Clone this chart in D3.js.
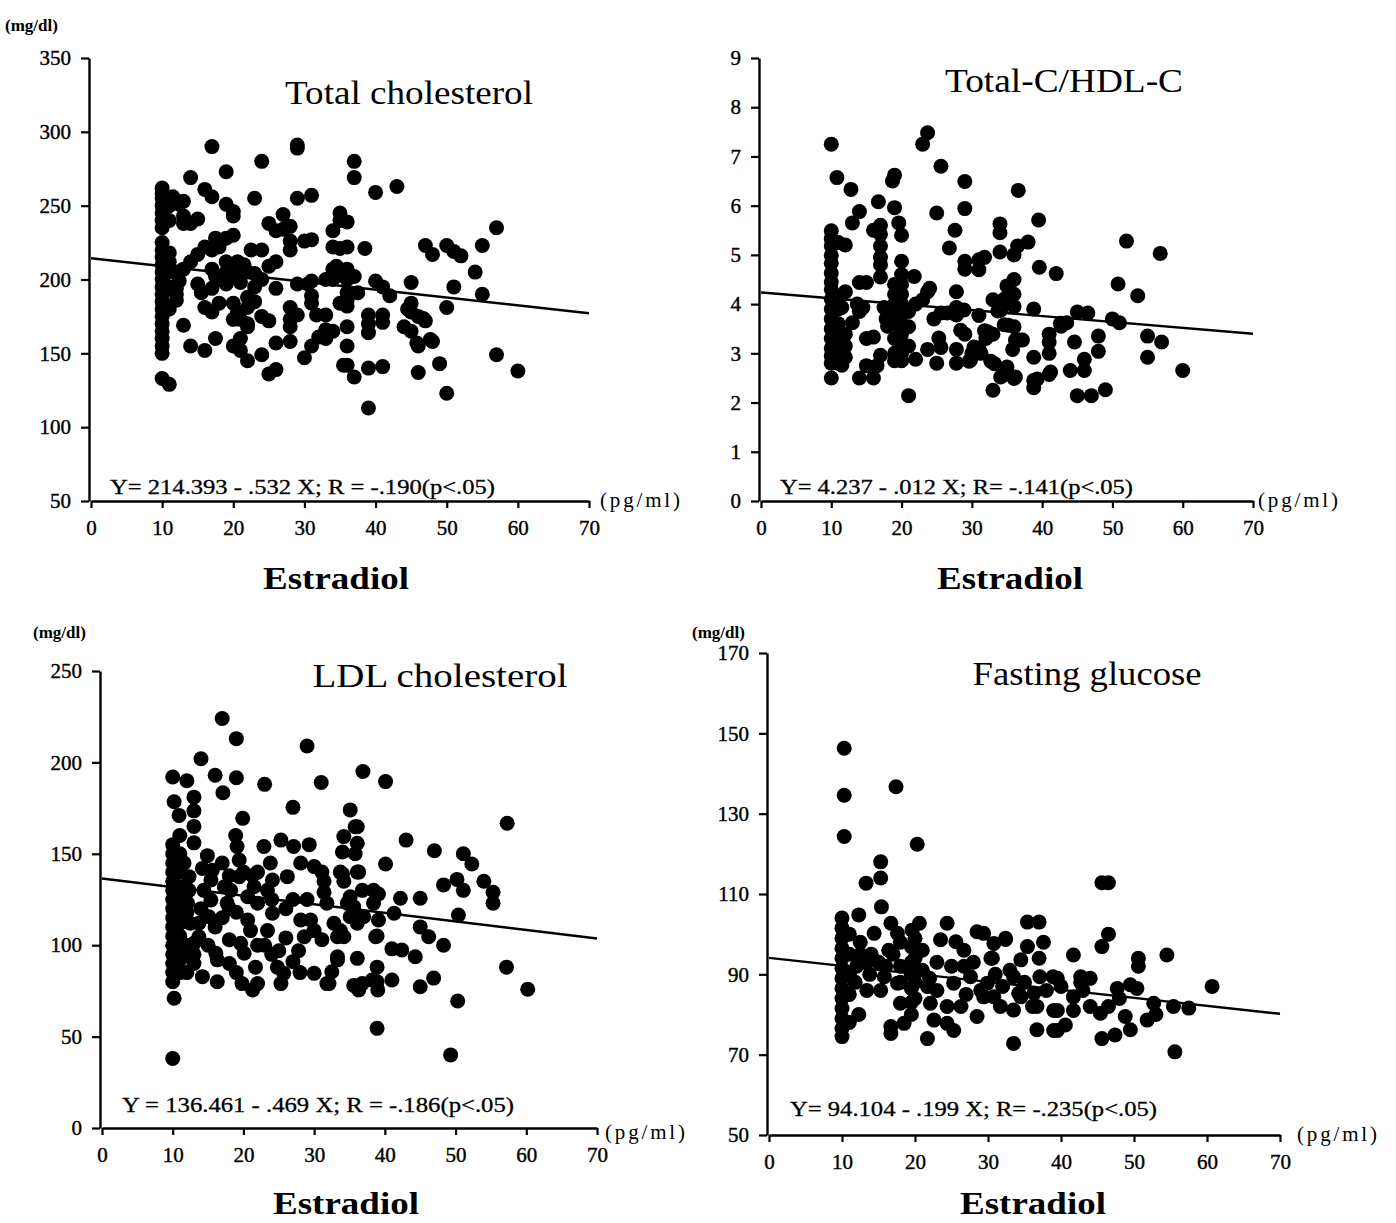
<!DOCTYPE html>
<html>
<head>
<meta charset="utf-8">
<script src="https://cdn.jsdelivr.net/npm/d3@7"></script>
<style>
  body { margin: 0; background: #fff; }
  svg text { font-family: "Liberation Serif", "Times New Roman", serif; fill: #000; }
</style>
</head>
<body>
<script>
// ---- data (estradiol pg/ml, value) ----
var xTicks = [0, 10, 20, 30, 40, 50, 60, 70];
var tcTicks = [50, 100, 150, 200, 250, 300, 350];
var hdlTicks = [0, 1, 2, 3, 4, 5, 6, 7, 8, 9];
var ldlTicks = [0, 50, 100, 150, 200, 250];
var gluTicks = [50, 70, 90, 110, 130, 150, 170];

// regression coefficients [intercept, slope] as printed
var tcFit = [214.393, -0.532];
var hdlFit = [4.237, -0.012];
var ldlFit = [136.461, -0.469];
var gluFit = [94.104, -0.199];

var titles = ["Total cholesterol", "Total-C/HDL-C", "LDL cholesterol", "Fasting glucose"];
var equations = [
  "Y= 214.393 - .532 X; R = -.190(p<.05)",
  "Y= 4.237 - .012 X; R= -.141(p<.05)",
  "Y = 136.461 - .469 X; R = -.186(p<.05)",
  "Y= 94.104 - .199 X; R= -.235(p<.05)"
];

var tcPts = [[17,290],[29,291],[29,289],[24,280],[37,280],[37,269],[19,273],[14,269],[43,263],[40,259],[10,262],[16,261],[17,256],[23,255],[29,255],[31,257],[57,235],[55,223],
[19,251],[20,246],[20,243],[15,241],[13,243],[25,238],[26,233],[27,234],[28,236],[27,244],[35,245],[35,240],[36,239],[34,233],[38.5,221],[47,223],[48,217],[50,223],[51,219],[52,216],[54,205],[55,190],[50,181],[51,195],[45,198],[42,189],[41,195],[40,199],[41,176],[41,171],[39,176],[39,164],[39,170],[37.5,191],[45,184],[45,178],[46,175],[47,172],[44,168],[45,165],[46,155],[46,137],[48,158],[49,143],[50,123],[57,149],[60,138],[39,113],[39,140],[41,141],[36,142],[37,134],[36,155],[36,168],[36,182],[36,186],[36,191],[36,200],[36,207],[34,207],[34.5,209],[37,202],[35,221],[36,222],[34,222],[33,176],[31.7,176],[31,184],[31,189],[30.5,197],[31,199],[29,197],[31,227],[30,226],[28,226],[28,220],[28,181],[28,173],[28,168],[29,176],[28,158],[30,147],[31,155],[33,160],[34,165],[26,157],[25,136],[26,139],[24,149],[25,172],[26,194],[26,212],[25,209],[24,220],[22.5,220],[23,204],[23,195],[21.5,210],[20.6,212],[20,204],[19,197],[17.5,228],[18,222],[19,228],[20,230],[16,222],[17,220],[15,217],[15,197],[15.5,191],[17,207],[17,194],[17.5,202],[19,212],[20,184],[20.6,178],[20,173],[21,173],[22,181],[22,168],[16,181],[17,178],[18,184],[17.5,160],[16,152],[14,155],[20,155],[21,160],[21,152],[22,145],[13,169],[12,186],[12.4,199],[12,194],[13,207],[14,212],[14,238],[13,238],[12.4,251],[13,253],[11.5,256],[11,129],[10,133],
[10,150],[10,155],[10,160],[10,165],[10,170],[10,175],[10,180],[10,185],[10,190],[10,195],[10,200],[10,205],[10,210],[10,215],[10,220],[10,225],[10,235],[10,240],[10,245],[10,250],[10,255],[10,258],
[11,205],[11,212],[11,218],[11,195],[11,180],[12,205],[12,190],[11,250],[11,240],[21,198],[22,205],[23,185],[22,188],[24,175],[22,170],[18,200],[19,205],[24,200],[33,200],[34,200],[35,203],[35.5,142],[32,161],[33,166],[35,184],[44.5,180],[46.7,173.6],[45.8,157],[47.7,159.4]];

var hdlPts = [[10,7.25],[10.8,6.57],[12.8,6.33],[14,5.88],[13,5.65],[16.7,6.08],[19,6.62],[18.7,6.5],[19,5.96],[19.6,5.65],[20,5.4],[23,7.25],[23.7,7.48],[25.6,6.8],[25,5.85],[29,6.49],[29,5.94],[36.6,6.31],[39.5,5.71],[52,5.28],[56.8,5.03],[34,5.63],[34,5.45],[38,5.26],[36.5,5.18],[36,5.0],[34,5.06],[27.6,5.5],[26.8,5.14],[29,4.87],[29,4.71],[31,4.9],[31.8,4.95],[31,4.7],[39.6,4.75],[42,4.62],[50.8,4.41],[53.6,4.17],[55,3.35],[55,2.92],[57,3.23],[60,2.65],[50,3.7],[51,3.62],[45,3.84],[46.5,3.82],[48,3.35],[48,3.04],[44.6,3.23],[46,2.88],[46,2.65],[44,2.65],[45,2.14],[47,2.14],[49,2.26],[42.7,3.55],[43.5,3.62],[41,3.39],[41,3.0],[41,3.23],[41,2.57],[38.8,3.9],[38.8,2.92],[38.8,2.45],[38.8,2.3],[36.8,3.27],[35.8,3.08],[36,3.54],[36,4.5],[36,4.2],[36,3.95],[35,4.37],[34.6,4.1],[34,3.93],[33,4.09],[33.7,3.86],[34.6,3.58],[33,3.39],[32,3.3],[31.8,3.46],[32.7,2.84],[33,2.25],[34.6,2.57],[35,2.72],[36,2.49],[31,3.77],[31,3.11],[29.6,2.84],[30,3.0],[29,3.39],[27.8,4.25],[27.8,3.93],[27.8,3.78],[26.5,3.82],[25.6,3.82],[24.6,3.7],[25.3,3.31],[25.6,3.12],[25,2.8],[23.7,3.08],[23,4.09],[23.7,4.25],[24,4.32],[22,4.0],[21,3.85],[21.8,4.56],[21,3.54],[21,3.15],[22,2.88],[21,2.14],[27.8,3.08],[27.8,2.8],
[20,4.87],[20,4.6],[20,4.4],[20,4.2],[20,4.0],[20,3.8],[20,3.6],[20,3.4],[20,3.2],[20,3.0],[20,2.85],
[19,4.4],[19,4.2],[19,4.0],[19,3.8],[19,3.6],[19,3.3],[19,3.0],[19,2.85],
[17.5,3.93],[17.8,3.7],[18,3.55],[17,5.6],[17,5.42],[17,5.18],[17,4.95],[17,4.8],[17,4.55],[16,5.5],[17,2.96],[16.5,2.75],[16,2.5],[16,3.33],[15,3.3],[15,2.75],[15,4.44],[14,4.44],[13.7,4.0],[14,3.85],[13,3.62],[14.5,3.93],[14,2.5],[12,4.25],[11.5,3.93],[12,3.39],[12,3.15],[12,2.92],[11.5,2.76],
[10,5.49],[10,5.33],[10,5.18],[10,4.99],[10,4.83],[10,4.63],[10,4.45],[10,4.3],[10,4.1],[10,3.9],[10,3.7],[10,3.5],[10,3.3],[10,3.1],[10,2.95],[10,2.8],[10,2.5],[11,5.25],[12,5.2],[11,4.1],[11,3.9],[11,3.6],[11,3.3],[11,3.0],[11,2.8],
[28.4,3.47],[30.3,3.13],[32.2,3.44],[35.2,3.57],[28.9,3.88],[34.1,3.88],[29.8,2.86],[31.3,3.0],[33.2,2.79],[36.2,3.27],[37.2,3.27],[34.1,2.52],[36.2,2.52],[39.3,2.48],[41.2,2.62],[42.6,3.61]];

var ldlPts = [[17,224],[19,213],[29,209],[14,202],[10,192],[12,190],[16,193],[19,191.6],[17.1,183.4],[23,188],[31,189],[36.9,195],[13,181],[10.2,178.5],[10.9,171],[13,173.5],[13,165],[27,175.4],[19.9,169.4],[35.1,174],[35.8,164.8],[34.2,159.4],[34,151],
[10,155],[10,150],[10,145],[10,140],[10,135],[10,130],[10,125],[10,120],[10,115],[10,110],[10,105],[10,100],[10,95],[10,90],[10,85],[10,80],[10.2,71],[10,38],
[13,156],[14.9,149],[14.2,142],[15.6,141],[11.6,145],[12.3,137.5],[12.3,130],[12.1,123],[18.9,160],[19.1,154],[19.4,146.6],[19.4,137.5],[22.9,154],[23.8,145],[25.3,157.5],[27.1,154],[29.3,155],[28.1,145],[30,143],[31.1,140],[31.4,135],[34,139],[34.2,135],[35.8,150],[36.3,140],[26.2,137.5],[24.1,135.7],[23.4,130],[21.3,138],[21.5,132],[20.6,126.5],[18,138],[17.3,132],[18.2,130],[17.7,123],[15.4,135.7],[14.4,130],[15.4,124.7],[15.1,115.6],[13.7,112],[13.7,104.6],[13,101],[12.5,112],[16.1,95.6],[16.3,92],[13,90],[14.2,82.8],[16.3,80],[18,103],[19.6,101],[20.1,95.6],[19.8,79],[21.3,75.5],[21.7,88],[22,79],[23.4,108],[24.1,117.5],[20.6,113.8],[21,108],[25,97],[24.8,88],[25.7,84.6],[25.3,79],[28.1,113.8],[28.6,104.6],[27.8,97],[29.5,113.8],[30,108],[31.4,129],[31.8,123],[31.1,103],[30,84.6],[31.8,79],[33.7,108],[33.3,104.6],[33.3,92],[32.5,85.5],[34.7,123],[35.1,115.6],[36.1,112],[36.1,92.8],[35.6,78],[36.3,75.5],[36.8,79],[38.4,130],[38.4,123],[38.9,54.5],[38.7,104.6],[38.9,88],[38.9,80],
[40.1,189.5],[57.3,166.7],[43,157.5],[47,151.7],[51.1,150],[52.3,144.4],[40.1,144.4],[36.1,140],[48.3,133],[50.2,136],[51.1,130],[54,135],[55.3,129],[55.3,123],[42.2,125.7],[45,125.7],[50.4,116.5],[39.1,128],[38.9,105],[45,110],[46.2,104.6],[48.3,100],[41,98],[42.4,97.4],[44.3,93.7],[39,75.5],[41,81],[45,77.3],[46.9,82],[50.3,69.5],[57.2,88],[60.2,75.9],[49.3,40],[32.8,112],[34.2,104.6],[33.3,93.7],[32.1,79],[38.2,81],[36.1,164.8],[36.1,155.8],[33.7,140],[36.8,130],[35.1,126.5],[35.6,121],[37,115.6],[39.1,113.8],[41.3,117.5],
[11,160],[11,150],[11,140],[11,132],[11,125],[11,118],[11,112],[11,105],[11,98],[11,92],[12,118],[12,100],[12,95],[11,85],[12,85],[13,95],[14,120],[16,110],[17,115],[18,120],[19,118],[22,123],[24,125],[26,120],[27,125],[29,125],[23,100],[26,104],[27,91],[28,85],[24,95],[22,100],[18,90],[19,85],[15,100],[20,140],[22,140],[17,145]];

var gluPts = [[10.3,146.3],[10.3,134.6],[10.3,124.3],[17.4,136.7],[20.3,122.4],[15.3,118],[15.3,114],[13.3,112.7],[15.4,106.8],
[10,104],[10,101.5],[10,99],[10,96.5],[10,94],[10,91.5],[10,89],[10,86.5],[10,84],[10,81.5],[10,79],[10,76.5],[10,74.5],
[12.3,104.8],[14.4,100.2],[12.5,98],[12.5,95],[13.4,93],[13.8,90],[11.8,88],[13.4,86],[12.3,80],[16.7,102.7],[17.6,100.2],[16.4,96],[20.6,102.7],[19.6,101],[16.7,77],[16.7,75.3],[18.5,77.8],[15.8,89.4],[15.3,86],[17.6,87.8],[18,82.8],
[19.5,96.9],[19.5,93],[19.5,90],[19.5,86.5],[19.5,83],[19.5,80],
[21.7,74],[21.7,87],[22.1,82.8],[22.6,78.6],[24.4,102.7],[23.5,98.6],[25.6,98.1],[26.7,96],[28.5,100.6],[29.4,100.2],[32.4,99],[30.8,97.7],[30.4,94],[26.7,92],[27.6,89.4],[25.3,87.8],[24.4,82],[26.3,82],[24.4,77.8],[25.3,76],[28.5,79.5],[29,86],[29.9,87.8],[29.4,84.4],[31.7,82],[30.8,84.4],[33.5,72.8],[35.4,103],[37,103],[37.6,98],[35.4,96.9],[34.5,93.6],[33.5,89.4],[34.5,84.4],[36.7,82],[36.7,76.2],[37.1,89.4],[38.9,89.4],[39,81],[39,76],
[45.6,112.8],[46.5,112.8],[46.5,100],[45.6,96.9],[41.7,94.8],[50.6,94],[50.6,92],[54.5,94.8],[60.7,87],[32.4,98.7],[30.6,94],[39.5,89],[42.7,89.4],[44,89],[36.3,85.3],[36.1,82],[34.2,85.3],[33.5,81.1],[39.5,81],[39.5,76],[40.6,77.4],[41.7,84.4],[41.7,81],[42.7,88],[47.7,86.5],[49.5,87.4],[50.4,86.5],[46.5,82],[45.4,80.3],[48.8,79.5],[49.5,76.2],[45.6,74],[47.4,74.9],[52.7,82.8],[51.8,78.6],[55.4,82],[57.5,81.6],[55.6,70.7],
[11,100],[11,95],[11,90],[11,85],[11,78],[12,92],[14,95],[15,93],[16,92],[17,95],[18,98],[18,92],[18,88],[20,99],[20,94],[20,88],[20,84],[21,96],[21,91],[22,89],[23,93],[23,86],[25,92],[27,85],[28,93],[31,90],[32,87],[33,91],[35,88],[37,94],[38,86],[40,87],[43,86],[44,82],[48,84],[53,80]];

// ---- layout ----
var svg = d3.select("body").append("svg")
  .attr("width", 1396)
  .attr("height", 1223)
  .style("background", "#fff");

var panels = [
  { pts: tcPts, fit: tcFit, ticks: tcTicks, yDom: [50, 350], xr: [91, 589], yr: [501, 58],
    title: titles[0], titleAt: [409, 104], titleLen: 248, eq: equations[0], eqAt: [110, 494], eqLen: 385,
    unitAt: [600, 507], xlabAt: [336, 589], mgAt: [5, 31] },
  { pts: hdlPts, fit: hdlFit, ticks: hdlTicks, yDom: [0, 9], xr: [761, 1253], yr: [501, 58],
    title: titles[1], titleAt: [1064, 92], titleLen: 238, eq: equations[1], eqAt: [780, 494], eqLen: 353,
    unitAt: [1258, 507], xlabAt: [1010, 589], mgAt: null },
  { pts: ldlPts, fit: ldlFit, ticks: ldlTicks, yDom: [0, 250], xr: [102, 597], yr: [1128, 671],
    title: titles[2], titleAt: [440, 687], titleLen: 255, eq: equations[2], eqAt: [122, 1112], eqLen: 392,
    unitAt: [605, 1139], xlabAt: [346, 1214], mgAt: [33, 638] },
  { pts: gluPts, fit: gluFit, ticks: gluTicks, yDom: [50, 170], xr: [769, 1280], yr: [1135, 653],
    title: titles[3], titleAt: [1087, 685], titleLen: 229, eq: equations[3], eqAt: [790, 1116], eqLen: 367,
    unitAt: [1297, 1141], xlabAt: [1033, 1214], mgAt: [692, 638] }
];

panels.forEach(function(p) {
  var x = d3.scaleLinear().domain([0, 70]).range(p.xr);
  var y = d3.scaleLinear().domain(p.yDom).range(p.yr);
  var g = svg.append("g");

  var yAxis = g.append("g")
    .attr("transform", "translate(" + (p.xr[0] - 2) + ",0)")
    .call(d3.axisLeft(y).tickValues(p.ticks).tickSize(8).tickSizeOuter(0).tickPadding(10).tickFormat(d3.format("d")));
  var xAxis = g.append("g")
    .attr("transform", "translate(0," + p.yr[0] + ")")
    .call(d3.axisBottom(x).tickValues(xTicks).tickSize(7).tickSizeOuter(0).tickPadding(12).tickFormat(d3.format("d")));

  [yAxis, xAxis].forEach(function(a) {
    a.attr("font-family", null).attr("font-size", null);
    a.select(".domain").attr("stroke", "#000").attr("stroke-width", 2.4);
    a.selectAll(".tick line").attr("stroke", "#000").attr("stroke-width", 2.2);
    a.selectAll(".tick text")
      .style("font-size", "21px")
      .attr("stroke", "#000")
      .attr("stroke-width", 0.4);
  });

  // fitted line from printed equation
  var line = d3.line()
    .x(function(d) { return x(d); })
    .y(function(d) { return y(p.fit[0] + p.fit[1] * d); });
  g.append("path")
    .datum([0, 70])
    .attr("d", line)
    .attr("fill", "none")
    .attr("stroke", "#000")
    .attr("stroke-width", 2.4);

  g.selectAll("circle.pt")
    .data(p.pts)
    .enter()
    .append("circle")
    .attr("class", "pt")
    .attr("cx", function(d) { return x(d[0]); })
    .attr("cy", function(d) { return y(d[1]); })
    .attr("r", 7.5)
    .attr("fill", "#000");

  g.append("text")
    .attr("x", p.titleAt[0]).attr("y", p.titleAt[1])
    .attr("text-anchor", "middle")
    .attr("textLength", p.titleLen)
    .attr("lengthAdjust", "spacingAndGlyphs")
    .style("font-size", "34px")
    .text(p.title);

  g.append("text")
    .attr("x", p.eqAt[0]).attr("y", p.eqAt[1])
    .attr("textLength", p.eqLen)
    .attr("lengthAdjust", "spacingAndGlyphs")
    .attr("stroke", "#000")
    .attr("stroke-width", 0.3)
    .style("font-size", "21px")
    .text(p.eq);

  g.append("text")
    .attr("x", p.unitAt[0]).attr("y", p.unitAt[1])
    .attr("textLength", 80)
    .attr("lengthAdjust", "spacing")
    .style("font-size", "21px")
    .text("(pg/ml)");

  g.append("text")
    .attr("x", p.xlabAt[0]).attr("y", p.xlabAt[1])
    .attr("text-anchor", "middle")
    .attr("textLength", 146)
    .attr("lengthAdjust", "spacingAndGlyphs")
    .style("font-size", "32px")
    .style("font-weight", "bold")
    .text("Estradiol");

  if (p.mgAt) {
    g.append("text")
      .attr("x", p.mgAt[0]).attr("y", p.mgAt[1])
      .style("font-size", "17px")
      .style("font-weight", "bold")
      .text("(mg/dl)");
  }
});
</script>
</body>
</html>
